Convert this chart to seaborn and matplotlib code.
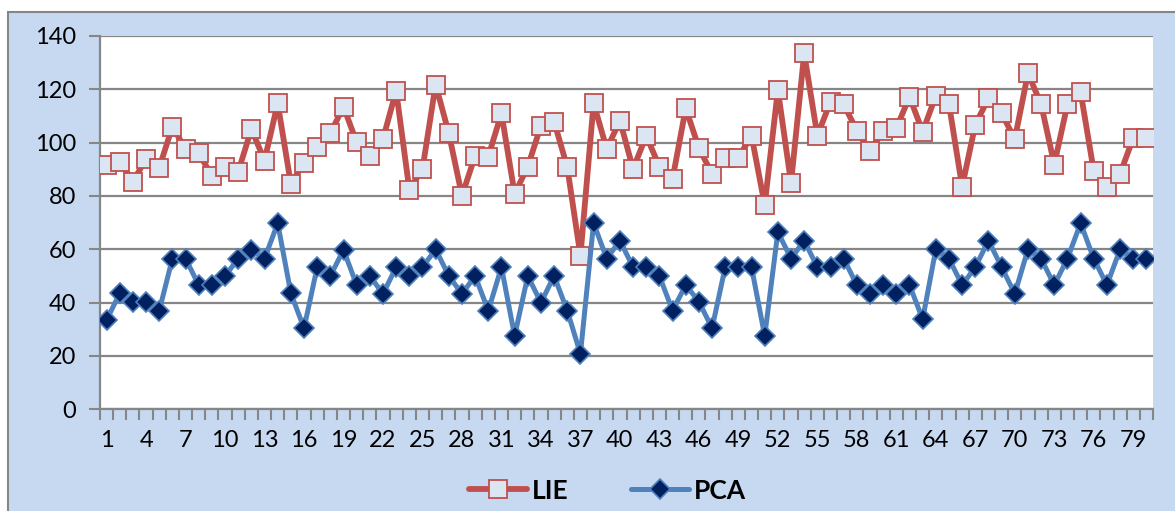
import numpy as np
import pandas as pd
import matplotlib
matplotlib.use("Agg")
import matplotlib.pyplot as plt
from matplotlib.patches import Rectangle
from matplotlib.lines import Line2D
import seaborn as sns

# valeurs (80 points)
lie = [91.5, 92.9, 85.4, 93.9, 90.6, 106.0, 97.6, 96.0, 87.6, 90.9,
       89.1, 105.1, 93.3, 114.8, 84.5, 92.4, 98.3, 103.5, 113.5, 100.1,
       95.1, 101.4, 119.5, 82.4, 90.1, 121.8, 103.5, 80.1, 95.1, 94.8,
       111.0, 80.8, 91.0, 106.4, 107.9, 90.8, 57.6, 114.8, 97.6, 108.3,
       90.1, 102.6, 91.0, 86.4, 112.9, 98.0, 88.3, 94.4, 94.4, 102.6,
       76.6, 119.8, 84.9, 133.5, 102.6, 115.4, 114.4, 104.5, 97.0, 104.5,
       105.4, 117.2, 104.1, 117.6, 114.4, 83.5, 106.8, 116.6, 111.0, 101.3,
       126.0, 114.4, 91.8, 114.4, 119.0, 89.3, 83.5, 88.3, 101.8, 101.8]
pca = [33.5, 43.5, 40.4, 40.4, 37.0, 56.5, 56.5, 46.6, 46.6, 50.0,
       56.5, 59.8, 56.5, 69.8, 43.5, 30.4, 53.3, 50.0, 59.8, 46.6,
       50.0, 43.3, 53.3, 50.0, 53.3, 60.0, 50.0, 43.3, 50.0, 37.0,
       53.3, 27.5, 50.0, 40.0, 50.0, 37.0, 20.8, 69.8, 56.5, 63.3,
       53.3, 53.3, 50.0, 37.0, 46.6, 40.4, 30.4, 53.3, 53.3, 53.3,
       27.5, 66.5, 56.5, 63.3, 53.3, 53.3, 56.5, 46.6, 43.3, 46.6,
       43.3, 46.6, 33.8, 60.0, 56.5, 46.6, 53.3, 63.3, 53.3, 43.3,
       60.0, 56.5, 46.6, 56.5, 69.8, 56.5, 46.6, 60.0, 56.5, 56.5]
idx = list(range(1, 81))
yticks = [0, 20, 40, 60, 80, 100, 120, 140]

df = pd.DataFrame({"idx": idx, "LIE": lie, "PCA": pca})

sns.set_style("white")
plt.rcParams["font.family"] = ["Lato", "DejaVu Sans"]
plt.rcParams["text.color"] = "black"
plt.rcParams["xtick.labelcolor"] = "black"
plt.rcParams["ytick.labelcolor"] = "black"

red = "#C0504D"
blue = "#4F81BD"
grid = "#868686"

fig = plt.figure(figsize=(11.75, 5.11), dpi=100)
fig.patch.set_facecolor("white")
# zone du graphique (fond bleu clair)
fig.patches.append(Rectangle((8 / 1175, -0.01), 1.0, (511 - 12) / 511 + 0.01,
                             transform=fig.transFigure, facecolor="#C6D9F1",
                             edgecolor=grid, linewidth=1.5, zorder=-5))

ax = fig.add_axes([100 / 1175, 101.7 / 511, 1053 / 1175, 373.3 / 511])
ax.set_facecolor("white")

sns.lineplot(data=df, x="idx", y="LIE", ax=ax, color=red, linewidth=4.2,
             marker="s", markersize=13, markerfacecolor="#DCE6F2",
             markeredgecolor=red, markeredgewidth=1.3, zorder=3)
sns.lineplot(data=df, x="idx", y="PCA", ax=ax, color=blue, linewidth=3.6,
             marker="D", markersize=10, markerfacecolor="#002060",
             markeredgecolor=blue, markeredgewidth=1.2, zorder=4)

ax.set_xlim(0.5, 80.5)
ax.set_ylim(0, 140)
ax.set_yticks(yticks)
ax.set_xticks(idx[::3])
ax.set_xticks(np.arange(0.5, 81, 1), minor=True)
ax.tick_params(axis="y", length=8, width=1.5, color=grid, labelsize=17,
               pad=9, left=True)
ax.tick_params(axis="x", which="major", length=0, labelsize=17, pad=15)
ax.tick_params(axis="x", which="minor", length=8, width=1.5, color=grid,
               bottom=True)
ax.set_xlabel("")
ax.set_ylabel("")

ax.grid(axis="y", color=grid, linewidth=1.6)
ax.set_axisbelow(True)
for s in ["top", "right"]:
    ax.spines[s].set_visible(False)
for s in ["left", "bottom"]:
    ax.spines[s].set_color(grid)
    ax.spines[s].set_linewidth(1.6)

h1 = Line2D([], [], color=red, linewidth=4.2, marker="s", markersize=13,
            markerfacecolor="#DCE6F2", markeredgecolor=red, markeredgewidth=1.3)
h2 = Line2D([], [], color=blue, linewidth=3.6, marker="D", markersize=10,
            markerfacecolor="#002060", markeredgecolor=blue, markeredgewidth=1.2)
fig.legend([h1, h2], ["LIE", "PCA"], loc="center", bbox_to_anchor=(0.517, 0.04),
           ncol=2, frameon=False, handlelength=2.2, handletextpad=0.15,
           columnspacing=2.4, prop={"weight": "bold", "size": 19})

fig.savefig("out.png", dpi=100)
